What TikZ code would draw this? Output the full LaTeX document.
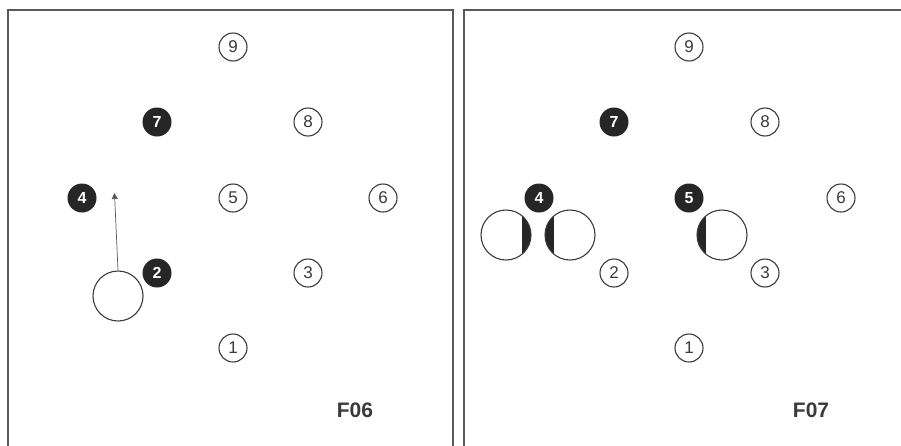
\documentclass[tikz,border=0pt]{standalone}
\usepackage{fontspec}
\setmainfont{Liberation Sans}
\usetikzlibrary{arrows.meta}
\definecolor{frame}{HTML}{5A5A5A}
\definecolor{ink}{HTML}{3A3A3A}
\tikzset{
  panel/.style={draw=frame, line width=2pt},
  wc/.style={circle, draw=ink, line width=1.1pt, minimum size=28pt, inner sep=0pt, text=ink, font=\fontsize{17}{17}\selectfont},
  bc/.style={circle, fill=black!85, minimum size=29pt, inner sep=0pt, text=white, font=\bfseries\fontsize{16}{16}\selectfont},
  big/.style={circle, draw=ink, line width=1.1pt, minimum size=50pt, inner sep=0pt},
  moonR/.style={big, path picture={\fill[black!85] ([xshift=-9pt]path picture bounding box.north east) rectangle (path picture bounding box.south east);}},
  moonL/.style={big, path picture={\fill[black!85] (path picture bounding box.north west) rectangle ([xshift=9pt]path picture bounding box.south west);}},
  lbl/.style={text=ink, font=\bfseries\fontsize{21}{21}\selectfont},
  move/.style={draw=gray!70!black, line width=0.7pt, -{Triangle[width=6pt,length=6pt]}}
}
\begin{document}
\begin{tikzpicture}[x=1pt,y=-1pt]
\useasboundingbox (0,0) rectangle (901,445);
% panels
\draw[panel] (8,446) -- (8,10) -- (453,10) -- (453,446);
\draw[panel] (464,446) -- (464,10) -- (902,10);
% left panel F06
\node[wc] (l9) at (233,47) {9};
\node[bc] (l7) at (157,122) {7};
\node[wc] (l8) at (308,122) {8};
\node[bc] (l4) at (82,198) {4};
\node[wc] (l5) at (233,198) {5};
\node[wc] (l6) at (383,198) {6};
\node[bc] (l2) at (157,273) {2};
\node[wc] (l3) at (308,273) {3};
\node[wc] (l1) at (233,348) {1};
\node[big] (lb) at (118,296) {};
\coordinate (lt) at (114.5,193);
\draw[move] (lb.north) -- (lt);
\node[lbl] (f06) at (355,410) {F06};
% right panel F07
\node[wc] (r9) at (689,47) {9};
\node[bc] (r7) at (614,122) {7};
\node[wc] (r8) at (765,122) {8};
\node[bc] (r4) at (539,198) {4};
\node[bc] (r5) at (689,198) {5};
\node[wc] (r6) at (841,198) {6};
\node[wc] (r2) at (614,273) {2};
\node[wc] (r3) at (765,273) {3};
\node[wc] (r1) at (689,348) {1};
\node[moonR] (ra) at (506,235) {};
\node[moonL] (rb) at (570,235) {};
\node[moonL] (rc) at (722,235) {};
\node[lbl] (f07) at (811,410) {F07};
\end{tikzpicture}
\end{document}
